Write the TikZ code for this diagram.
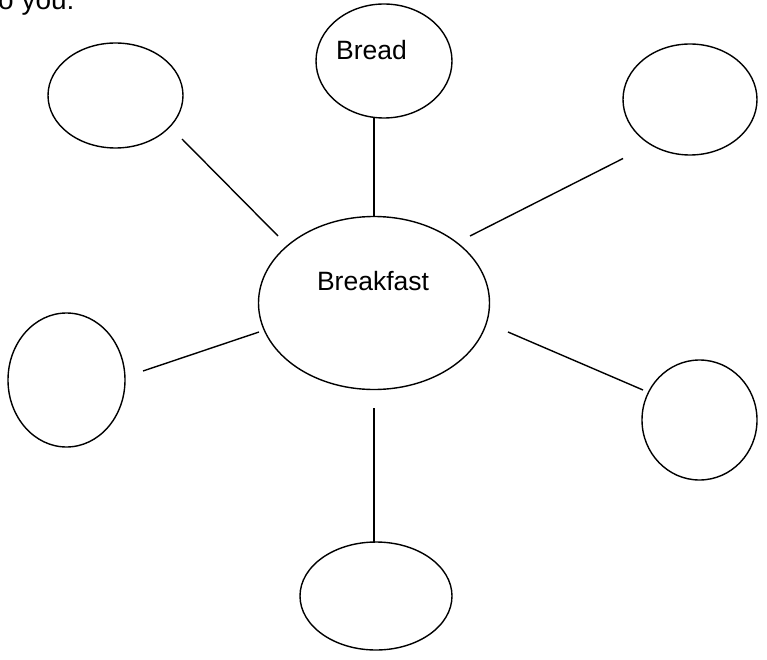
\documentclass[tikz,border=0pt]{standalone}
\usepackage{fontspec}
\setmainfont{Liberation Sans}
\usetikzlibrary{shapes.geometric,calc}
\begin{document}
\begin{tikzpicture}[x=1pt,y=-1pt,
  bubble/.style={draw,ellipse,line width=1.4pt,inner sep=0pt},
  link/.style={line width=1.4pt},
  lbl/.style={inner sep=0pt,anchor=base,font=\fontsize{26.5}{30}\selectfont}]
\useasboundingbox (0,0) rectangle (767,660);
\node[lbl,anchor=base west,font=\fontsize{28}{32}\selectfont] (intro) at (-2,10) {o you:};
\node[bubble,minimum width=231pt,minimum height=173pt] (bk) at (374,303) {};
\node[bubble,minimum width=136pt,minimum height=114pt] (bread) at (384,61) {};
\node[bubble,minimum width=135pt,minimum height=105pt] (tl) at (115.5,95.5) {};
\node[bubble,minimum width=134pt,minimum height=111pt] (tr) at (690,99.5) {};
\node[bubble,minimum width=117pt,minimum height=134pt] (l) at (66.5,380) {};
\node[bubble,minimum width=115pt,minimum height=120pt] (r) at (699.5,420) {};
\node[bubble,minimum width=152pt,minimum height=108pt] (b) at (376,596) {};
\node[lbl] (bktext) at (373,290) {Breakfast};
\node[lbl] (breadtext) at (371.5,60) {Bread};
\draw[link] ($(bk)+(-96,-67)$) -- ($(tl)+(66.5,43.5)$);
\draw[link] ($(bk)+(0,-86)$) -- ($(bread)+(-10,57)$);
\draw[link] ($(bk)+(96,-67)$) -- ($(tr)+(-67,59)$);
\draw[link] ($(bk)+(-115,29)$) -- ($(l)+(76.5,-9)$);
\draw[link] ($(bk)+(134,29)$) -- ($(r)+(-56.5,-30)$);
\draw[link] ($(bk)+(0,105)$) -- ($(b)+(-2,-53)$);
\end{tikzpicture}
\end{document}
